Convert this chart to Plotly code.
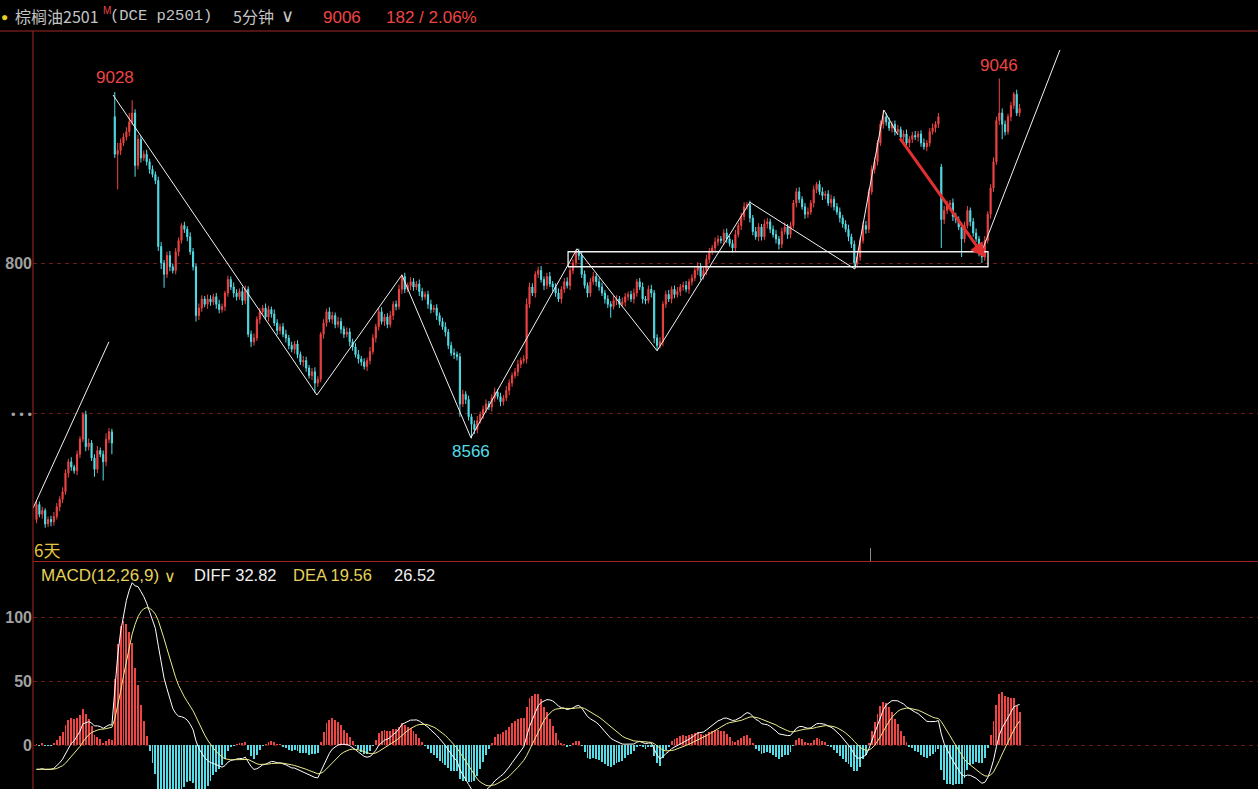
import plotly.graph_objects as go

# ---------------- data (5-minute candles, 340 bars) ----------------
close_ = [
    8478, 8465, 8470, 8452, 8458, 8455, 8462, 8475, 8485, 8495,
    8520, 8535, 8528, 8523, 8545, 8565, 8598, 8555, 8560, 8540,
    8525, 8550, 8545, 8535, 8565, 8575, 8560,
    8945, 8950, 8960,
    8968, 8975, 8988, 9000, 8930, 8965, 8940, 8945, 8935, 8925,
    8918, 8910, 8822, 8800, 8785, 8810, 8795, 8790, 8815, 8830,
    8850, 8845, 8835, 8815, 8795, 8730, 8740, 8752, 8745, 8752,
    8748, 8755, 8745, 8738, 8742, 8760, 8778, 8768, 8760, 8755,
    8762, 8750, 8765, 8705, 8695, 8700, 8725, 8735, 8740, 8728,
    8738, 8732, 8720, 8710, 8715, 8705, 8700, 8690, 8685, 8692,
    8678, 8668, 8670, 8660, 8650, 8655, 8640, 8645, 8705, 8720,
    8735, 8725, 8730, 8718, 8722, 8712, 8705, 8708, 8695, 8688,
    8678, 8672, 8668, 8662, 8670, 8682, 8700, 8715, 8735, 8722,
    8728, 8718, 8730, 8745, 8742, 8765, 8782, 8765, 8770, 8775,
    8768, 8772, 8762, 8755, 8758, 8745, 8738, 8740, 8730, 8722,
    8715, 8708, 8690, 8680, 8678, 8675, 8612, 8625, 8618, 8595,
    8585, 8578, 8590, 8598, 8605, 8612, 8608, 8620, 8628, 8622,
    8615, 8620, 8630, 8640, 8650, 8655, 8665, 8670, 8672, 8745,
    8768, 8760, 8785, 8790, 8778, 8770, 8782, 8772, 8768, 8760,
    8752, 8765, 8775, 8770, 8790, 8800, 8815, 8810, 8785, 8770,
    8760, 8775, 8782, 8775, 8768, 8760, 8752, 8745, 8742, 8750,
    8752, 8745, 8748, 8755, 8758, 8752, 8760, 8775, 8768, 8752,
    8750, 8765, 8760, 8700, 8690, 8695, 8745, 8758, 8752, 8765,
    8758, 8762, 8768, 8770, 8765, 8775, 8780, 8790, 8795, 8782,
    8790, 8805, 8815, 8820, 8828, 8832, 8830, 8840, 8832, 8826,
    8820, 8838, 8850, 8862, 8875, 8878, 8860, 8842, 8835, 8848,
    8835, 8852, 8855, 8845, 8838, 8832, 8825, 8842, 8848, 8838,
    8850, 8880, 8895, 8885, 8875, 8865, 8868, 8880, 8898, 8905,
    8895, 8890, 8892, 8880, 8885, 8875, 8868, 8860, 8852, 8845,
    8835, 8825, 8800, 8808, 8830, 8850, 8845, 8895, 8925, 8935,
    8960, 8985, 8995, 8988, 8980, 8985, 8975, 8978, 8968, 8972,
    8960, 8965, 8970, 8968, 8972, 8960, 8955, 8960, 8975, 8980,
    8985, 8995, 8858, 8870, 8878, 8880, 8862, 8858, 8848, 8832,
    8850, 8870, 8855, 8840, 8832, 8815, 8808, 8830, 8865, 8900,
    8935, 8990, 9000, 8985, 8975, 8995, 9010, 9025, 9000, 9006,
]
upper_wick = [
    6, 4, 5, 3, 4, 5, 6, 5, 4, 6,
    5, 4, 6, 3, 5, 4, 3, 5, 6, 4,
    5, 6, 4, 5, 8, 5, 4,
    33, 10, 6,
    5, 6, 12, 17, 5, 6, 4, 5, 6, 4,
    5, 4, 5, 6, 4, 5, 6, 4, 5, 4,
    3, 5, 4, 6, 5, 4, 6, 5, 4, 6,
    5, 4, 5, 6, 4, 3, 5, 4, 6, 5,
    4, 6, 5, 4, 5, 6, 4, 5, 4, 6,
    5, 4, 6, 5, 4, 5, 6, 4, 5, 4,
    5, 4, 6, 5, 4, 5, 6, 4, 3, 5,
    4, 6, 5, 4, 6, 5, 4, 6, 5, 4,
    5, 6, 4, 5, 4, 6, 5, 4, 5, 6,
    4, 5, 6, 4, 5, 6, 3, 5, 4, 6,
    5, 4, 6, 5, 4, 5, 6, 4, 5, 4,
    5, 6, 4, 5, 6, 4, 5, 6, 4, 5,
    4, 5, 6, 4, 5, 6, 4, 5, 6, 4,
    5, 4, 6, 5, 4, 5, 6, 4, 5, 8,
    6, 5, 4, 5, 6, 4, 5, 6, 4, 5,
    6, 4, 5, 6, 4, 5, 3, 4, 6, 5,
    4, 5, 6, 4, 5, 6, 4, 5, 4, 6,
    5, 4, 6, 5, 4, 5, 6, 4, 5, 6,
    4, 5, 6, 4, 5, 6, 4, 5, 6, 4,
    5, 6, 4, 5, 6, 4, 5, 4, 6, 5,
    4, 6, 5, 4, 6, 5, 4, 5, 6, 4,
    5, 6, 4, 5, 6, 3, 5, 4, 6, 5,
    4, 6, 5, 4, 5, 6, 4, 5, 6, 4,
    5, 4, 5, 6, 4, 5, 6, 4, 5, 3,
    5, 6, 4, 5, 6, 4, 5, 6, 4, 5,
    6, 4, 5, 6, 4, 5, 6, 4, 5, 6,
    4, 5, 9, 5, 6, 4, 5, 6, 4, 5,
    6, 4, 5, 6, 4, 5, 6, 4, 5, 6,
    4, 5, 4, 6, 5, 4, 6, 5, 4, 6,
    5, 6, 4, 5, 6, 4, 5, 6, 4, 5,
    6, 5, 46, 6, 5, 4, 5, 3, 6, 6,
]
lower_wick = [
    5, 4, 6, 5, 4, 6, 5, 4, 6, 5,
    4, 6, 5, 4, 6, 5, 4, 6, 5, 4,
    10, 5, 4, 25, 6, 5, 15,
    5, 47, 6,
    4, 5, 6, 4, 15, 5, 6, 4, 5, 6,
    4, 5, 6, 8, 18, 5, 6, 4, 5, 6,
    4, 5, 6, 4, 5, 8, 6, 5, 4, 6,
    5, 4, 6, 5, 4, 6, 5, 4, 6, 5,
    4, 6, 5, 4, 7, 5, 4, 6, 5, 4,
    6, 5, 4, 6, 5, 4, 6, 5, 4, 6,
    5, 4, 6, 5, 4, 6, 13, 5, 4, 6,
    5, 4, 6, 5, 4, 6, 5, 4, 6, 5,
    4, 6, 5, 4, 6, 5, 4, 6, 5, 4,
    6, 5, 4, 6, 5, 4, 6, 5, 4, 6,
    5, 4, 6, 5, 4, 6, 5, 4, 6, 5,
    4, 6, 5, 4, 6, 5, 17, 4, 6, 5,
    19, 6, 5, 4, 6, 5, 4, 6, 5, 4,
    6, 5, 4, 6, 5, 4, 6, 5, 4, 6,
    5, 4, 6, 5, 4, 6, 5, 4, 6, 5,
    4, 6, 5, 4, 6, 5, 4, 6, 5, 4,
    6, 5, 4, 6, 5, 4, 6, 5, 15, 4,
    6, 5, 4, 6, 5, 4, 6, 5, 4, 6,
    5, 4, 6, 7, 7, 4, 6, 5, 4, 6,
    5, 4, 6, 5, 4, 6, 5, 4, 6, 5,
    4, 6, 5, 4, 6, 5, 4, 6, 5, 4,
    6, 5, 4, 6, 5, 4, 6, 5, 4, 6,
    5, 4, 6, 5, 4, 6, 7, 5, 4, 6,
    5, 4, 6, 5, 4, 6, 5, 4, 6, 5,
    4, 6, 5, 4, 6, 5, 4, 6, 5, 4,
    6, 5, 5, 6, 5, 4, 6, 5, 4, 6,
    5, 4, 6, 5, 4, 6, 5, 4, 6, 5,
    4, 6, 5, 4, 6, 5, 4, 6, 5, 4,
    6, 5, 38, 6, 5, 4, 6, 5, 4, 24,
    5, 4, 6, 5, 4, 6, 8, 5, 4, 6,
    5, 4, 6, 20, 5, 4, 6, 5, 4, 5,
]
first_open = 8458
gap_opens = {27: 8995, 312: 8928}

# MACD state carried in from before the visible window
ema12_seed = 8484.0
ema26_seed = 8504.0
dea_seed = -19.0

# drawn study lines (bar index, price)
zigzag_idx = [26.4, 96.7, 126.0, 149.8, 186.4, 214.0, 246.0, 282.2, 292.2, 297.0]
zigzag_price = [9024, 8624, 8784, 8567, 8819, 8683, 8881, 8792, 9004, 8971]
left_line_idx = [-1.2, 25.0]
left_line_price = [8473, 8695]
right_line_idx = [325.7, 352.9]
right_line_price = [8813, 9084]
box_idx = [183.3, 328.1]
box_price = [8795, 8815]
arrow_idx = [297.4, 327.1]
arrow_price = [8968, 8807]

price_ticks = [8800, 8600]
price_ticktext = ["<b>800</b>", "<span style='font-size:13px'>• • •</span>"]
macd_ticks = [100, 50, 0]
macd_ticktext = ["<b>100</b>", "<b>50</b>", "<b>0</b>"]

# ---------------- derived series ----------------
n = len(close_)
idx = list(range(n))
open_ = [first_open] + close_[:-1]
for k, v in gap_opens.items():
    open_[k] = v
high_ = [max(o, c) + w for o, c, w in zip(open_, close_, upper_wick)]
low_ = [min(o, c) - w for o, c, w in zip(open_, close_, lower_wick)]

diff_, dea_, hist_ = [], [], []
e12, e26, d = ema12_seed, ema26_seed, dea_seed
for c in close_:
    e12 += 2 / 13 * (c - e12)
    e26 += 2 / 27 * (c - e26)
    df = e12 - e26
    d += 2 / 10 * (df - d)
    diff_.append(df)
    dea_.append(d)
    hist_.append(2 * (df - d))

# ---------------- styling ----------------
W, H = 1258, 789
RED = "#ef4444"
CYAN = "#54dde6"
AXIS_RED = "#a32626"
GRID_RED = "#6e1b1b"
GRAY = "#a0a0a0"
YEL = "#e6d25a"


def px(x):
    return x / W


def py(y):
    return 1 - y / H


x_dom = [px(33), 1]
x_rng = [-1.2, 421.2]

fig = go.Figure()
fig.add_trace(go.Candlestick(
    x=idx, open=open_, high=high_, low=low_, close=close_,
    increasing=dict(line=dict(color=RED, width=1), fillcolor=RED),
    decreasing=dict(line=dict(color=CYAN, width=1), fillcolor=CYAN),
    whiskerwidth=0, xaxis="x", yaxis="y", hoverinfo="skip", showlegend=False,
))
for xs, ys in [(zigzag_idx, zigzag_price), (left_line_idx, left_line_price),
               (right_line_idx, right_line_price)]:
    fig.add_trace(go.Scatter(x=xs, y=ys, mode="lines", line=dict(color="#f2f2f2", width=1),
                             xaxis="x", yaxis="y", hoverinfo="skip", showlegend=False))
fig.add_trace(go.Scatter(
    x=[box_idx[0], box_idx[1], box_idx[1], box_idx[0], box_idx[0]],
    y=[box_price[0], box_price[0], box_price[1], box_price[1], box_price[0]],
    mode="lines", line=dict(color="#f2f2f2", width=1.3),
    xaxis="x", yaxis="y", hoverinfo="skip", showlegend=False))

# MACD panel
fig.add_trace(go.Bar(
    x=idx, y=hist_, width=0.3,
    marker=dict(color=[RED if h >= 0 else CYAN for h in hist_], line=dict(width=0)),
    xaxis="x2", yaxis="y2", hoverinfo="skip", showlegend=False))
fig.add_trace(go.Scatter(x=idx, y=diff_, mode="lines", line=dict(color="#ffffff", width=1),
                         xaxis="x2", yaxis="y2", hoverinfo="skip", showlegend=False))
fig.add_trace(go.Scatter(x=idx, y=dea_, mode="lines", line=dict(color="#ecec8c", width=1),
                         xaxis="x2", yaxis="y2", hoverinfo="skip", showlegend=False))

ann = []


def text(x, y, s, color, size, family="Liberation Sans", anchor="left"):
    ann.append(dict(x=px(x), y=py(y), xref="paper", yref="paper", text=s, showarrow=False,
                    xanchor=anchor, yanchor="middle", font=dict(color=color, size=size, family=family)))


# header
text(-1, 17, "●", "#e8d020", 12)
text(13, 16, "棕榈油2501", "#c4c4c4", 16, "Noto Sans CJK SC")
text(101, 11, "M", RED, 10)
text(108, 16, "(DCE p2501)", "#c4c4c4", 15.5, "Liberation Mono")
text(231, 16, "5分钟", "#c4c4c4", 16, "Noto Sans CJK SC")
text(279, 16, "∨", "#c4c4c4", 18, "DejaVu Sans")
text(321, 17, "9006", RED, 17)
text(384, 17, "182 / 2.06%", RED, 17)
# macd header
text(39, 575, "MACD(12,26,9)", YEL, 17)
text(162, 576, "∨", YEL, 16, "DejaVu Sans")
text(192, 575, "DIFF 32.82", "#f0f0f0", 16.5)
text(291, 575, "DEA 19.56", YEL, 16.5)
text(392, 575, "26.52", "#f0f0f0", 16.5)
# days label
text(32, 549, "6天", "#e8c440", 17, "Noto Sans CJK SC")

# extreme labels
ann.append(dict(x=27, y=9028, xref="x", yref="y", text="9028", showarrow=False, yshift=14,
                font=dict(color=RED, size=17, family="Liberation Sans")))
ann.append(dict(x=150, y=8566, xref="x", yref="y", text="8566", showarrow=False, yshift=-13,
                font=dict(color=CYAN, size=17, family="Liberation Sans")))
ann.append(dict(x=332, y=9046, xref="x", yref="y", text="9046", showarrow=False, yshift=13,
                font=dict(color=RED, size=17, family="Liberation Sans")))
# red arrow
ann.append(dict(x=arrow_idx[1], y=arrow_price[1], ax=arrow_idx[0], ay=arrow_price[0],
                xref="x", yref="y", axref="x", ayref="y", text="", showarrow=True,
                arrowhead=2, arrowsize=1, arrowwidth=3, arrowcolor="#e22f2f"))

shapes = [
    dict(type="line", xref="paper", yref="paper", x0=0, x1=1, y0=py(31), y1=py(31),
         line=dict(color=AXIS_RED, width=1)),
    dict(type="line", xref="paper", yref="paper", x0=px(33), x1=1, y0=py(561.5), y1=py(561.5),
         line=dict(color=AXIS_RED, width=1)),
    dict(type="line", xref="paper", yref="paper", x0=px(33), x1=px(33), y0=0, y1=py(31),
         line=dict(color=AXIS_RED, width=1)),
    dict(type="line", xref="paper", yref="paper", x0=px(870.5), x1=px(870.5), y0=py(548), y1=py(561),
         line=dict(color="#8a8a8a", width=1)),
]

axis_common = dict(showline=False, zeroline=False, ticks="", showgrid=True,
                   gridcolor=GRID_RED, griddash="4px,4px", gridwidth=1,
                   tickfont=dict(color=GRAY, size=16, family="Liberation Sans"))

fig.update_layout(
    width=W, height=H, margin=dict(l=0, r=0, t=0, b=0),
    paper_bgcolor="#000000", plot_bgcolor="#000000",
    showlegend=False, bargap=0, boxgap=0.45,
    xaxis=dict(domain=x_dom, range=x_rng, visible=False, anchor="y",
               rangeslider=dict(visible=False)),
    yaxis=dict(domain=[py(561), py(31)], range=[8402.7, 9109.3], anchor="x",
               tickmode="array", tickvals=price_ticks, ticktext=price_ticktext, **axis_common),
    xaxis2=dict(domain=x_dom, range=x_rng, visible=False, anchor="y2", matches="x"),
    yaxis2=dict(domain=[0, py(562)], range=[-34.375, 142.97], anchor="x2",
                tickmode="array", tickvals=macd_ticks, ticktext=macd_ticktext, **axis_common),
    annotations=ann, shapes=shapes,
)

fig.write_html("out.html", config={"displayModeBar": False})
